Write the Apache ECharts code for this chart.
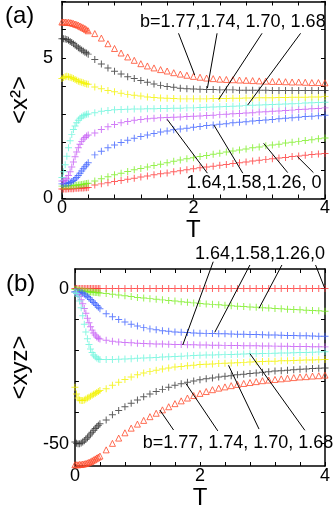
<!DOCTYPE html>
<html>
<head>
<meta charset="utf-8">
<script src="https://cdn.jsdelivr.net/npm/echarts@6/dist/echarts.min.js"></script>
<style>
  html, body { margin: 0; padding: 0; background: #fff; }
  #chart { width: 333px; height: 513px; }
</style>
</head>
<body>
<div id="chart"></div>
<script>
// ── Temperature grid: dense run up to 0.4, then steps of 0.1 ──
var denseT  = [0, 0.025, 0.05, 0.075, 0.1, 0.125, 0.15, 0.175, 0.2, 0.225, 0.25, 0.275, 0.3, 0.325, 0.35, 0.375, 0.4];
var sparseT = [0.5, 0.6, 0.7, 0.8, 0.9, 1.0, 1.1, 1.2, 1.3, 1.4, 1.5, 1.6, 1.7, 1.8, 1.9, 2.0, 2.1, 2.2,
               2.3, 2.4, 2.5, 2.6, 2.7, 2.8, 2.9, 3.0, 3.1, 3.2, 3.3, 3.4, 3.5, 3.6, 3.7, 3.8, 3.9, 4.0];
var allT = denseT.concat(sparseT);

var bValues = ['1.77', '1.74', '1.70', '1.68', '1.64', '1.58', '1.26', '0'];

// ── (a) <x^2> ──
var x2_177 = [6.27, 6.27, 6.27, 6.26, 6.26, 6.25, 6.24, 6.22, 6.20, 6.18, 6.16, 6.13, 6.10, 6.07, 6.04, 6.00, 5.96,
              5.86, 5.70, 5.50, 5.33, 5.17, 5.03, 4.91, 4.79, 4.71, 4.64, 4.58, 4.53, 4.47, 4.42, 4.38, 4.34, 4.31, 4.28,
              4.26, 4.24, 4.23, 4.22, 4.21, 4.20, 4.19, 4.18, 4.17, 4.16, 4.16, 4.15, 4.14, 4.14, 4.13, 4.12, 4.12, 4.11];
var x2_174 = [5.68, 5.68, 5.67, 5.65, 5.62, 5.58, 5.54, 5.50, 5.45, 5.41, 5.36, 5.32, 5.28, 5.24, 5.20, 5.17, 5.13,
              4.94, 4.78, 4.64, 4.52, 4.42, 4.33, 4.26, 4.19, 4.13, 4.07, 4.02, 3.98, 3.95, 3.92, 3.90, 3.89, 3.88, 3.87,
              3.87, 3.86, 3.86, 3.86, 3.85, 3.85, 3.85, 3.85, 3.85, 3.84, 3.84, 3.84, 3.84, 3.84, 3.84, 3.84, 3.84, 3.84];
var x2_170 = [4.26, 4.30, 4.33, 4.34, 4.33, 4.31, 4.29, 4.26, 4.23, 4.20, 4.17, 4.15, 4.13, 4.11, 4.09, 4.07, 4.06,
              3.96, 3.90, 3.84, 3.79, 3.74, 3.70, 3.67, 3.64, 3.61, 3.59, 3.57, 3.56, 3.55, 3.54, 3.54, 3.54, 3.54, 3.54,
              3.55, 3.55, 3.55, 3.56, 3.56, 3.57, 3.57, 3.58, 3.58, 3.58, 3.59, 3.59, 3.60, 3.60, 3.60, 3.61, 3.61, 3.62];
var x2_168 = [0.75, 0.95, 1.20, 1.50, 1.80, 2.05, 2.27, 2.45, 2.58, 2.69, 2.78, 2.85, 2.90, 2.94, 2.97, 2.99, 3.00,
              3.05, 3.10, 3.13, 3.15, 3.16, 3.17, 3.18, 3.18, 3.19, 3.19, 3.20, 3.20, 3.21, 3.21, 3.22, 3.22, 3.23, 3.24,
              3.25, 3.26, 3.27, 3.28, 3.29, 3.30, 3.31, 3.32, 3.33, 3.34, 3.35, 3.36, 3.37, 3.38, 3.39, 3.40, 3.41, 3.42];
var x2_164 = [0.62, 0.63, 0.66, 0.72, 0.82, 0.95, 1.12, 1.30, 1.48, 1.65, 1.80, 1.93, 2.03, 2.11, 2.17, 2.22, 2.26,
              2.33, 2.45, 2.55, 2.63, 2.69, 2.74, 2.78, 2.81, 2.83, 2.85, 2.87, 2.88, 2.89, 2.90, 2.91, 2.92, 2.93, 2.95,
              2.96, 2.98, 2.99, 3.01, 3.02, 3.04, 3.05, 3.07, 3.08, 3.10, 3.11, 3.13, 3.14, 3.16, 3.17, 3.19, 3.20, 3.22];
var x2_158 = [0.52, 0.52, 0.53, 0.54, 0.55, 0.57, 0.60, 0.64, 0.69, 0.75, 0.82, 0.90, 0.98, 1.06, 1.13, 1.20, 1.27,
              1.55, 1.68, 1.80, 1.90, 1.99, 2.07, 2.14, 2.20, 2.26, 2.31, 2.36, 2.40, 2.44, 2.47, 2.50, 2.53, 2.56, 2.59,
              2.61, 2.64, 2.66, 2.69, 2.71, 2.73, 2.75, 2.77, 2.79, 2.81, 2.83, 2.85, 2.87, 2.89, 2.91, 2.92, 2.94, 2.96];
var x2_126 = [0.44, 0.44, 0.44, 0.45, 0.45, 0.45, 0.46, 0.46, 0.47, 0.47, 0.48, 0.49, 0.50, 0.51, 0.52, 0.53, 0.54,
              0.62, 0.70, 0.77, 0.84, 0.90, 0.96, 1.02, 1.07, 1.12, 1.17, 1.22, 1.27, 1.32, 1.37, 1.41, 1.45, 1.49, 1.53,
              1.57, 1.61, 1.65, 1.69, 1.72, 1.76, 1.80, 1.83, 1.87, 1.90, 1.93, 1.97, 2.00, 2.03, 2.06, 2.09, 2.12, 2.15];
var x2_0   = [0.34, 0.34, 0.34, 0.34, 0.35, 0.35, 0.35, 0.35, 0.36, 0.36, 0.36, 0.37, 0.37, 0.37, 0.38, 0.38, 0.39,
              0.48, 0.52, 0.56, 0.60, 0.64, 0.68, 0.72, 0.76, 0.80, 0.84, 0.88, 0.91, 0.95, 0.99, 1.02, 1.06, 1.09, 1.12,
              1.15, 1.18, 1.21, 1.24, 1.27, 1.30, 1.33, 1.36, 1.39, 1.41, 1.44, 1.46, 1.49, 1.51, 1.54, 1.56, 1.58, 1.60];

// ── (b) <xyz> ──
var xyz_177 = [-56.8, -56.8, -56.8, -56.7, -56.7, -56.6, -56.5, -56.4, -56.2, -56.0, -55.8, -55.5, -55.2, -54.9, -54.6, -54.3, -54.0,
               -52.0, -49.9, -48.2, -46.5, -45.0, -43.7, -42.5, -41.3, -40.2, -39.1, -38.1, -37.1, -36.2, -35.3, -34.5, -33.8, -33.2, -32.6,
               -32.1, -31.7, -31.3, -30.9, -30.6, -30.3, -30.0, -29.7, -29.5, -29.3, -29.1, -28.9, -28.7, -28.5, -28.4, -28.2, -28.1, -27.9];
var xyz_174 = [-49.5, -49.9, -50.0, -50.0, -49.8, -49.5, -49.1, -48.6, -48.1, -47.5, -46.9, -46.3, -45.7, -45.1, -44.6, -44.1, -43.6,
               -42.4, -40.7, -39.3, -38.1, -37.0, -35.9, -34.9, -34.0, -33.2, -32.5, -31.8, -31.2, -30.7, -30.2, -29.8, -29.4, -29.1, -28.8,
               -28.5, -28.3, -28.1, -27.8, -27.6, -27.4, -27.2, -27.0, -26.8, -26.6, -26.5, -26.3, -26.2, -26.0, -25.9, -25.8, -25.7, -25.6];
var xyz_170 = [-31.8, -34.0, -35.3, -35.9, -36.1, -36.1, -35.9, -35.6, -35.3, -35.0, -34.7, -34.4, -34.1, -33.8, -33.5, -33.2, -32.9,
               -32.3, -31.2, -30.2, -29.3, -28.5, -27.8, -27.2, -26.7, -26.3, -25.9, -25.6, -25.3, -25.1, -24.9, -24.7, -24.5, -24.4, -24.3,
               -24.2, -24.1, -24.0, -23.9, -23.8, -23.7, -23.6, -23.5, -23.45, -23.4, -23.3, -23.25, -23.2, -23.1, -23.05, -23.0, -22.95, -22.9];
var xyz_168 = [-1.2, -1.6, -2.5, -4.0, -6.2, -8.8, -11.5, -14.0, -16.2, -18.0, -19.5, -20.6, -21.4, -22.0, -22.4, -22.7, -22.9,
               -22.9, -22.9, -22.8, -22.7, -22.6, -22.5, -22.4, -22.3, -22.2, -22.1, -22.0, -21.9, -21.8, -21.7, -21.6, -21.5, -21.45, -21.4,
               -21.35, -21.3, -21.25, -21.2, -21.1, -21.05, -21.0, -20.95, -20.9, -20.85, -20.8, -20.75, -20.7, -20.65, -20.6, -20.5, -20.45, -20.4];
var xyz_164 = [-1.2, -1.4, -1.9, -2.6, -3.6, -4.9, -6.4, -8.0, -9.6, -11.0, -12.3, -13.4, -14.3, -15.0, -15.6, -16.0, -16.3,
               -16.7, -17.0, -17.2, -17.4, -17.5, -17.6, -17.7, -17.8, -17.85, -17.9, -17.95, -18.0, -18.05, -18.1, -18.15, -18.2, -18.23, -18.26,
               -18.29, -18.32, -18.35, -18.38, -18.41, -18.44, -18.47, -18.5, -18.53, -18.56, -18.59, -18.62, -18.65, -18.68, -18.71, -18.74, -18.77, -18.8];
var xyz_158 = [-1.0, -1.05, -1.1, -1.2, -1.35, -1.55, -1.8, -2.15, -2.55, -3.0, -3.5, -4.0, -4.5, -5.0, -5.5, -6.0, -6.5,
               -8.1, -9.1, -10.0, -10.8, -11.5, -12.1, -12.6, -13.0, -13.3, -13.6, -13.8, -14.0, -14.1, -14.2, -14.3, -14.4, -14.45, -14.5,
               -14.55, -14.6, -14.65, -14.7, -14.75, -14.8, -14.85, -14.9, -14.95, -15.0, -15.05, -15.1, -15.15, -15.2, -15.25, -15.3, -15.35, -15.4];
var xyz_126 = [-0.3, -0.4, -0.5, -0.6, -0.7, -0.8, -0.9, -0.95, -1.0, -1.05, -1.1, -1.15, -1.2, -1.25, -1.3, -1.35, -1.4,
               -1.6, -1.85, -2.1, -2.35, -2.6, -2.85, -3.05, -3.25, -3.45, -3.65, -3.85, -4.05, -4.25, -4.45, -4.62, -4.8, -4.95, -5.1,
               -5.25, -5.4, -5.55, -5.68, -5.8, -5.93, -6.05, -6.17, -6.3, -6.42, -6.53, -6.65, -6.76, -6.87, -6.98, -7.08, -7.18, -7.3];
var xyz_0   = [0, 0, 0, 0, 0, 0, 0, 0, 0, 0, 0, 0, 0, 0, 0, 0, 0,
               0, 0, 0, 0, 0, 0, 0, 0, 0, 0, 0, 0, 0, 0, 0, 0, 0, 0,
               0, 0, 0, 0, 0, 0, 0, 0, 0, 0, 0, 0, 0, 0, 0, 0, 0, 0];

// ── Ticks / labels ──
var xTicks  = [0, 0.4, 0.8, 1.2, 1.6, 2, 2.4, 2.8, 3.2, 3.6, 4];
var xLabels = [0, 2, 4];
var aTicks  = [0, 1, 2, 3, 4, 5, 6, 7];
var aLabels = [0, 5];
var bTicks  = [-50, -40, -30, -20, -10, 0];
var bLabels = [-50, 0];

// ── Styles ──
var FONT = '"Liberation Sans", Arial, sans-serif';
var PLUS = 'path://M4.3,0H5.7V4.3H10V5.7H5.7V10H4.3V5.7H0V4.3H4.3Z';
var colors = ['#ff4a2a', '#333333', '#f2f200', '#6cf5dc', '#c55cf5', '#3f62ff', '#7aee22', '#ff3838'];

// Leader lines: [T_text, v_text, T_curve, v_curve], in data units of each panel
var leadsA = [[1.773, 5.87, 2.018, 4.39], [2.359, 5.87, 2.212, 3.92], [3.043, 5.87, 2.384, 3.52], [3.629, 5.87, 2.824, 3.32],
              [2.212, 0.90, 1.601, 2.81], [2.750, 0.90, 2.311, 2.61], [3.433, 0.92, 3.067, 1.96], [3.824, 0.92, 3.580, 1.49]];
var leadsB = [[2.212, 8.65, 1.725, -18.2], [2.799, 7.59, 2.237, -14.1], [3.311, 7.59, 2.945, -6.37], [3.849, 7.59, 3.996, 0.08],
              [1.578, -45.6, 1.358, -39.15], [2.286, -45.9, 1.773, -30.54], [2.945, -45.3, 2.457, -24.74], [3.678, -45.7, 2.799, -21.0]];
// Text anchors (left, middle) in data units
var notesA = [['b=1.77,1.74, 1.70, 1.68', 1.187, 6.28], ['1.64,1.58,1.26, 0', 1.894, 0.55]];
var notesB = [['1.64,1.58,1.26,0', 1.919, 11.13], ['b=1.77, 1.74, 1.70, 1.68', 1.084, -49.95]];

(function () {
    'use strict';

    var chart = echarts.init(document.getElementById('chart'), null, { renderer: 'canvas' });

    function xAx(gridIndex, top) {
        return {
            type: 'value', gridIndex: gridIndex, min: 0, max: 4,
            position: top ? 'top' : 'bottom',
            name: top ? '' : 'T', nameLocation: 'middle', nameGap: 16,
            nameTextStyle: { fontSize: 24, color: '#000', fontFamily: FONT },
            axisLine: { onZero: false, lineStyle: { color: '#000', width: 1.5 } },
            axisTick: { inside: true, length: 4, customValues: xTicks, lineStyle: { color: '#000', width: 1 } },
            axisLabel: { show: !top, customValues: xLabels, margin: 1, fontSize: 18, color: '#000', fontFamily: FONT,
                         alignMinLabel: 'center', alignMaxLabel: 'center' },
            splitLine: { show: false }
        };
    }

    function yAx(gridIndex, right, min, max, ticks, labels, name, margin) {
        return {
            type: 'value', gridIndex: gridIndex, min: min, max: max,
            position: right ? 'right' : 'left',
            name: right ? '' : name, nameLocation: 'middle', nameGap: 26,
            nameTextStyle: { fontSize: 24, color: '#000', fontFamily: FONT },
            axisLine: { onZero: false, lineStyle: { color: '#000', width: 1.5 } },
            axisTick: { inside: true, length: 4, customValues: ticks, lineStyle: { color: '#000', width: 1 } },
            axisLabel: { show: !right, customValues: labels, margin: margin, fontSize: 18, color: '#000', fontFamily: FONT },
            splitLine: { show: false }
        };
    }

    function mk(panel, vals, ci) {
        var tri = ci === 0;
        return {
            type: 'scatter',
            xAxisIndex: panel * 2, yAxisIndex: panel * 2,
            data: allT.map(function (t, i) { return [t, vals[i]]; }),
            symbol: tri ? 'triangle' : PLUS,
            symbolSize: tri ? 6 : 7,
            itemStyle: tri
                ? { color: 'rgba(255,255,255,0)', borderColor: colors[ci], borderWidth: 1 }
                : { color: colors[ci] },
            silent: true,
            animation: false
        };
    }

    var seriesA = [x2_177, x2_174, x2_170, x2_168, x2_164, x2_158, x2_126, x2_0];
    var seriesB = [xyz_177, xyz_174, xyz_170, xyz_168, xyz_164, xyz_158, xyz_126, xyz_0];

    var series = [];
    // draw from b=0 upward so the b=1.77 triangles sit on top
    for (var i = seriesA.length - 1; i >= 0; i--) series.push(mk(0, seriesA[i], i));
    for (var j = seriesB.length - 1; j >= 0; j--) series.push(mk(1, seriesB[j], j));

    chart.setOption({
        backgroundColor: '#fff',
        animation: false,
        grid: [
            { left: 54, top: 1.5, width: 273, height: 197 },
            { left: 54, top: 269, width: 273, height: 197 }
        ],
        xAxis: [xAx(0, false), xAx(0, true), xAx(1, false), xAx(1, true)],
        yAxis: [
            yAx(0, false, 0, 7, aTicks, aLabels, '<x\u00b2>', 9),
            yAx(0, true, 0, 7, aTicks, aLabels, '', 9),
            yAx(1, false, -57.2, 6.3, bTicks, bLabels, '<xyz>', 6),
            yAx(1, true, -57.2, 6.3, bTicks, bLabels, '', 6)
        ],
        series: series
    });

    // ── Annotations (leader lines + texts), placed through the axes ──
    function px(panel, t, v) {
        return chart.convertToPixel({ xAxisIndex: panel * 2, yAxisIndex: panel * 2 }, [t, v]);
    }

    var g = [];
    [leadsA, leadsB].forEach(function (leads, panel) {
        leads.forEach(function (l) {
            var p1 = px(panel, l[0], l[1]);
            var p2 = px(panel, l[2], l[3]);
            g.push({
                type: 'line', silent: true, z: 100,
                shape: { x1: p1[0], y1: p1[1], x2: p2[0], y2: p2[1] },
                style: { stroke: '#000', lineWidth: 1 }
            });
        });
    });
    [notesA, notesB].forEach(function (notes, panel) {
        notes.forEach(function (n) {
            var p = px(panel, n[1], n[2]);
            g.push({
                type: 'text', silent: true, z: 100, x: p[0], y: p[1],
                style: {
                    text: n[0], font: '18px ' + FONT, fill: '#000',
                    textAlign: 'left', textVerticalAlign: 'middle', align: 'left', verticalAlign: 'middle'
                }
            });
        });
    });
    // panel tags
    g.push({ type: 'text', silent: true, x: 5, y: 16,
             style: { text: '(a)', font: '24px ' + FONT, fill: '#000', textVerticalAlign: 'middle', verticalAlign: 'middle' } });
    g.push({ type: 'text', silent: true, x: 6, y: 284,
             style: { text: '(b)', font: '24px ' + FONT, fill: '#000', textVerticalAlign: 'middle', verticalAlign: 'middle' } });

    chart.setOption({ graphic: g });
})();
</script>
</body>
</html>
